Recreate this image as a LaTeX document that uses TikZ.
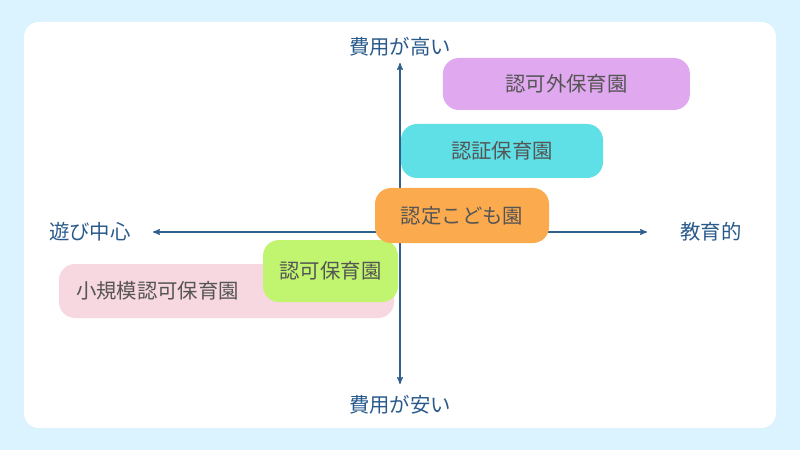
\documentclass[tikz,border=0pt]{standalone}
\usepackage{fontspec}
\setmainfont{Noto Sans CJK JP}
\usetikzlibrary{arrows}
\definecolor{bgblue}{RGB}{218,243,254}
\definecolor{axisblue}{RGB}{47,95,140}
\definecolor{labelblue}{RGB}{41,90,140}
\definecolor{boxtext}{RGB}{85,85,85}
\definecolor{hoiku_p}{RGB}{224,168,238}
\definecolor{hoiku_c}{RGB}{94,224,230}
\definecolor{hoiku_o}{RGB}{251,171,77}
\definecolor{hoiku_g}{RGB}{193,245,111}
\definecolor{hoiku_k}{RGB}{247,215,224}
\tikzset{
  axislabel/.style = {text=labelblue, font=\fontsize{14.5}{16}\selectfont,
    inner sep=0pt},
  hoiku/.style = {rounded corners=0.4cm, inner sep=0pt, text=boxtext,
    font=\fontsize{14.5}{16}\selectfont, align=center},% 保育施設の枠
  hoiku_l/.style = {hoiku, align=left, inner xsep=0.425cm,
    text width=7.525cm}% 左寄せの枠
}

\begin{document}
\begin{tikzpicture}[>=stealth']
% 背景
\fill [bgblue] (0,0) rectangle (20,11.25);
\fill [white, rounded corners=0.375cm] (0.6,0.55) rectangle (19.4,10.7);

% 軸
\node [axislabel] (play) at (2.25,5.45) {遊び中心};
\node [axislabel] (edu) at (17.775,5.45) {教育的};
\node [axislabel] (high) at (10,10.075) {費用が高い};
\node [axislabel] (low) at (10,1.125) {費用が安い};
\coordinate (left) at (3.825,5.45);
\coordinate (right) at (16.175,5.45);
\coordinate (top) at (10,9.675);
\coordinate (bottom) at (10,1.65);
\draw [<->, axisblue, thick] (left) -- (right);
\draw [<->, axisblue, thick] (bottom) -- (top);

% 施設
\node [hoiku_l, fill=hoiku_k, minimum width=8.375cm, minimum height=1.35cm]
  (shokibo) at (5.6625,3.975) {小規模認可保育園};
\node [hoiku, fill=hoiku_g, minimum width=3.375cm, minimum height=1.55cm]
  (ninka) at (8.2625,4.475) {認可保育園};
\node [hoiku, fill=hoiku_o, minimum width=4.35cm, minimum height=1.375cm]
  (kodomo) at (11.55,5.8625) {認定こども園};
\node [hoiku, fill=hoiku_c, minimum width=5.05cm, minimum height=1.35cm]
  (ninsho) at (12.55,7.475) {認証保育園};
\node [hoiku, fill=hoiku_p, minimum width=6.175cm, minimum height=1.3cm]
  (ninkagai) at (14.16,9.15) {認可外保育園};
\end{tikzpicture}
\end{document}
